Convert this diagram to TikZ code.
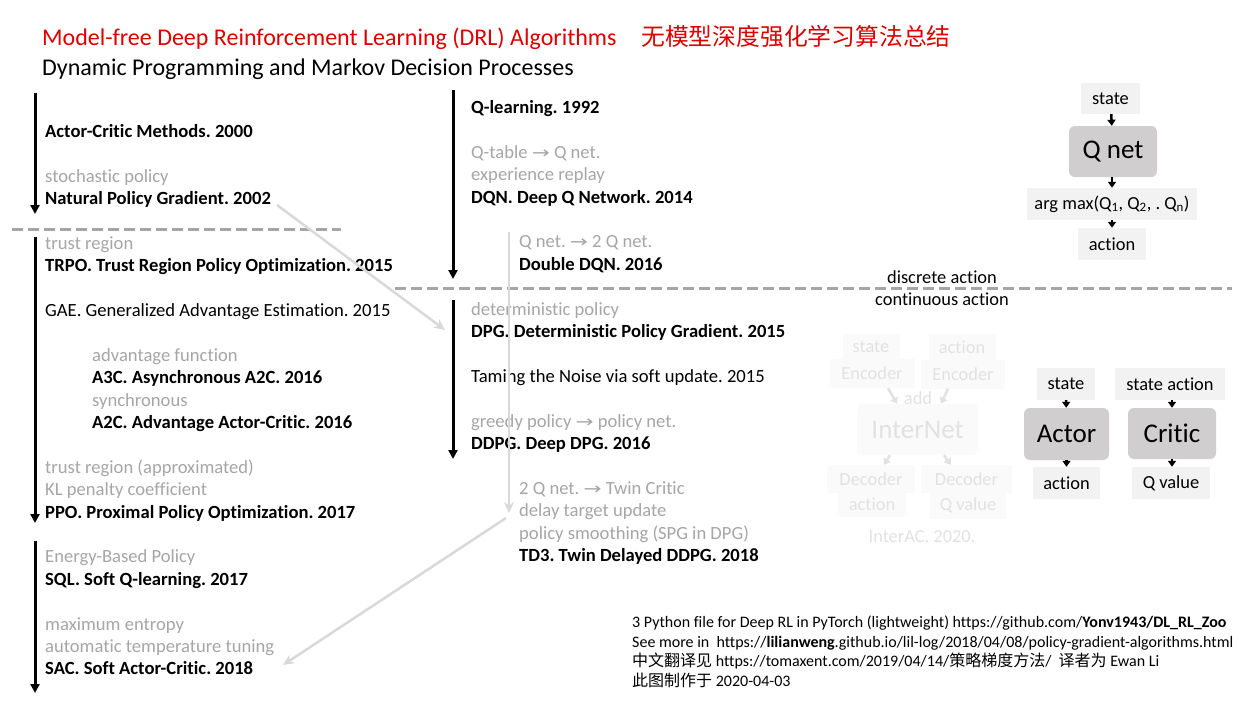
\documentclass[tikz,border=0pt]{standalone}
\usepackage{fontspec}
\setmainfont[Ligatures=NoCommon]{Carlito}
\newfontfamily\cjk{Noto Sans CJK SC}
\newfontfamily\symf{DejaVu Sans}
\usetikzlibrary{arrows.meta}
\definecolor{tgray}{HTML}{A6A6A6}
\definecolor{lgray}{HTML}{D9D9D9}
\definecolor{boxbg}{HTML}{F2F2F2}
\definecolor{netbg}{HTML}{D0CECE}
\definecolor{faint}{HTML}{E2E2E2}
\definecolor{faintbg}{HTML}{FAFAFA}
\definecolor{titlered}{HTML}{DD0000}
\newcommand{\rarr}{{\symf\fontsize{16.5}{16.5}\selectfont\scalebox{1.3}[1]{→}}}
\frenchspacing
\begin{document}
\begin{tikzpicture}[x=1pt,y=-1pt,
  bt/.style={anchor=base west, inner sep=0, font=\fontsize{18.6}{18.6}\selectfont\bfseries},
  rt/.style={anchor=base west, inner sep=0, font=\fontsize{18.6}{18.6}\selectfont},
  gt/.style={rt, text=tgray},
  blk/.style={line width=3pt, -{Triangle[length=9pt,width=9pt]}},
  dsh/.style={tgray, line width=3pt, dash pattern=on 11pt off 5pt},
  lar/.style={lgray, line width=2.5pt, -{Stealth[length=11pt,width=10pt]}},
  lbox/.style={fill=boxbg, inner sep=0, font=\fontsize{18.4}{18.4}\selectfont},
  net/.style={fill=netbg, rounded corners=6pt, inner sep=0, font=\fontsize{27}{27}\selectfont},
  sar/.style={line width=2.5pt, -{Triangle[length=6pt,width=8pt]}},
  fbox/.style={fill=faintbg, text=faint, inner sep=0, font=\fontsize{18.4}{18.4}\selectfont},
  fnet/.style={fill=faintbg, text=faint, rounded corners=6pt, inner sep=0, font=\fontsize{27}{27}\selectfont},
  far/.style={faint, line width=2.5pt, -{Triangle[length=6pt,width=8pt]}},
  ft/.style={anchor=base west, inner sep=0, font=\fontsize{16}{16}\selectfont}
]
\useasboundingbox[fill=white] (0,0) rectangle (1255,701);

% titles
\node[anchor=base west, inner sep=0, text=titlered, font=\fontsize{24}{24}\selectfont] (title) at (42,46) {Model-free Deep Reinforcement Learning (DRL) Algorithms};
\node[anchor=base west, inner sep=0, text=titlered, font=\fontsize{23.8}{23.8}\selectfont\cjk] (titlecn) at (641,46) {无模型深度强化学习算法总结};
\node[anchor=base west, inner sep=0, font=\fontsize{24}{24}\selectfont] (subtitle) at (42,75) {Dynamic Programming and Markov Decision Processes};

% left column
\node[bt] (ac) at (45,137) {Actor-Critic Methods. 2000};
\node[gt] (g1) at (45,182) {stochastic policy};
\node[bt] (npg) at (45,204) {Natural Policy Gradient. 2002};
\node[gt] (g2) at (45,249) {trust region};
\node[bt] (trpo) at (45,271) {TRPO. Trust Region Policy Optimization. 2015};
\node[rt] (gae) at (45,316) {GAE. Generalized Advantage Estimation. 2015};
\node[gt] (g3) at (92,361) {advantage function};
\node[bt] (a3c) at (92,383) {A3C. Asynchronous A2C. 2016};
\node[gt] (g4) at (92,406) {synchronous};
\node[bt] (a2c) at (92,428) {A2C. Advantage Actor-Critic. 2016};
\node[gt] (g5) at (45,473) {trust region (approximated)};
\node[gt] (g6) at (45,495) {KL penalty coefficient};
\node[bt] (ppo) at (45,518) {PPO. Proximal Policy Optimization. 2017};
\node[gt] (g7) at (45,562) {Energy-Based Policy};
\node[bt] (sql) at (45,585) {SQL. Soft Q-learning. 2017};
\node[gt] (g8) at (45,630) {maximum entropy};
\node[gt] (g9) at (45,652) {automatic temperature tuning};
\node[bt] (sac) at (45,674) {SAC. Soft Actor-Critic. 2018};

% middle column
\node[bt] (ql) at (471,113) {Q-learning. 1992};
\node[gt] (m1) at (471,158) {Q-table \rarr{} Q net.};
\node[gt] (m2) at (471,180) {experience replay};
\node[bt] (dqn) at (471,203) {DQN. Deep Q Network. 2014};
\node[gt] (m3) at (519,247) {Q net. \rarr{} 2 Q net.};
\node[bt] (ddqn) at (519,270) {Double DQN. 2016};
\node[gt] (m4) at (471,315) {deterministic policy};
\node[bt] (dpg) at (471,337) {DPG. Deterministic Policy Gradient. 2015};
\node[rt] (tame) at (471,382) {Taming the Noise via soft update. 2015};
\node[gt] (m5) at (471,427) {greedy policy \rarr{} policy net.};
\node[bt] (ddpg) at (471,449) {DDPG. Deep DPG. 2016};
\node[gt] (m6) at (519,494) {2 Q net. \rarr{} Twin Critic};
\node[gt] (m7) at (519,516) {delay target update};
\node[gt] (m8) at (519,539) {policy smoothing (SPG in DPG)};
\node[bt] (td3) at (519,561) {TD3. Twin Delayed DDPG. 2018};

% discrete / continuous
\node[inner sep=0, font=\fontsize{18.4}{18.4}\selectfont] (disc) at (942,277) {discrete action};
\node[inner sep=0, font=\fontsize{18.4}{18.4}\selectfont] (cont) at (942,299) {continuous action};

% timeline coordinates
\coordinate (l1a) at (35,93);  \coordinate (l1b) at (35,214);
\coordinate (l2a) at (35,237); \coordinate (l2b) at (35,523);
\coordinate (l3a) at (35,541); \coordinate (l3b) at (35,693);
\coordinate (m1a) at (453,90); \coordinate (m1b) at (453,279);
\coordinate (m2a) at (453,300); \coordinate (m2b) at (453,459);
\coordinate (v1a) at (509,232); \coordinate (v1b) at (509,513);
\coordinate (d1a) at (12,229); \coordinate (d1b) at (341,229);
\coordinate (d2a) at (395,288); \coordinate (d2b) at (1232,288);
\coordinate (x1a) at (277,205); \coordinate (x1b) at (445,330);
\coordinate (x2a) at (506,518); \coordinate (x2b) at (283,665);

\draw[dsh] (d1a) -- (d1b);
\draw[dsh] (d2a) -- (d2b);
\draw[lar] (v1a) -- (v1b);
\draw[lar] (x1a) -- (x1b);
\draw[lar] (x2a) -- (x2b);
\draw[blk] (l1a) -- (l1b);
\draw[blk] (l2a) -- (l2b);
\draw[blk] (l3a) -- (l3b);
\draw[blk] (m1a) -- (m1b);
\draw[blk] (m2a) -- (m2b);

% Q net diagram
\node[lbox, minimum width=59pt, minimum height=31pt] (qs) at (1110.5,98.5) {state};
\node[net, minimum width=88pt, minimum height=51pt] (qn) at (1113,151.5) {Q net};
\node[lbox, minimum width=170pt, minimum height=32pt] (qa) at (1112,204) {arg max(Q\textsubscript{1}, Q\textsubscript{2}, . Q\textsubscript{n})};
\node[lbox, minimum width=68pt, minimum height=32pt] (qo) at (1112,244) {action};
\draw[sar] (qs) -- (qn);
\draw[sar] (qn.south -| qa.north) -- (qa);
\draw[sar] (qa) -- (qo);

% Actor / Critic
\node[lbox, minimum width=58pt, minimum height=32pt] (as) at (1066,384) {state};
\node[net, minimum width=85pt, minimum height=52pt] (actor) at (1066.5,434) {Actor};
\node[lbox, minimum width=67pt, minimum height=32pt] (ao) at (1066.5,483) {action};
\draw[sar] (as) -- (actor);
\draw[sar] (actor) -- (ao);
\node[lbox, minimum width=110pt, minimum height=32pt] (cs) at (1170,384) {state action};
\node[net, minimum width=88pt, minimum height=51pt] (critic) at (1172,433.5) {Critic};
\node[lbox, minimum width=78pt, minimum height=32pt] (co) at (1171,483) {Q value};
\draw[sar] (cs.south -| critic.north) -- (critic.north);
\draw[sar] (critic) -- (co.north -| critic.south);

% InterAC faint
\node[fbox, minimum width=57pt, minimum height=26pt] (fs) at (871,347) {state};
\node[fbox, minimum width=85pt, minimum height=29pt] (fse) at (872,373.5) {Encoder};
\node[fbox, minimum width=67pt, minimum height=26pt] (fa) at (962,347) {action};
\node[fbox, minimum width=84pt, minimum height=29pt] (fae) at (963,374) {Encoder};
\node[inner sep=0, text=faint, font=\fontsize{18.4}{18.4}\selectfont] (fadd) at (918,398) {add};
\node[fnet, minimum width=121pt, minimum height=51pt] (fin) at (917.5,429.5) {InterNet};
\node[fbox, minimum width=88pt, minimum height=28pt] (fd1) at (871,479) {Decoder};
\node[fbox, minimum width=91pt, minimum height=28pt] (fd2) at (966.5,479) {Decoder};
\node[fbox, minimum width=68pt, minimum height=25pt] (fo1) at (872,504.5) {action};
\node[fbox, minimum width=76pt, minimum height=27pt] (fo2) at (968,505) {Q value};
\node[inner sep=0, text=faint, font=\fontsize{18.4}{18.4}\selectfont] (fac) at (922,537) {InterAC. 2020.};
\draw[far] (fse.south -| 888,0) -- (fin.north -| 897,0);
\draw[far] (fae.south -| 948,0) -- (fin.north -| 941,0);
\draw[far] (fin.south -| 890,0) -- (fd1.north -| 884,0);
\draw[far] (fin.south -| 944,0) -- (fd2.north -| 951,0);

% bottom right notes
\node[ft] (n1) at (632,627) {3 Python file for Deep RL in PyTorch (lightweight) https://github.com/\textbf{Yonv1943/DL\_RL\_Zoo}};
\node[ft] (n2) at (632,647) {See more in\ \ https://\textbf{lilianweng}.github.io/lil-log/2018/04/08/policy-gradient-algorithms.html};
\node[ft] (n3) at (632,666) {{\cjk 中文翻译见} https://tomaxent.com/2019/04/14/{\cjk 策略梯度方法}/\ \ {\cjk 译者为} Ewan Li};
\node[ft] (n4) at (632,686) {{\cjk 此图制作于} 2020-04-03};
\end{tikzpicture}
\end{document}
